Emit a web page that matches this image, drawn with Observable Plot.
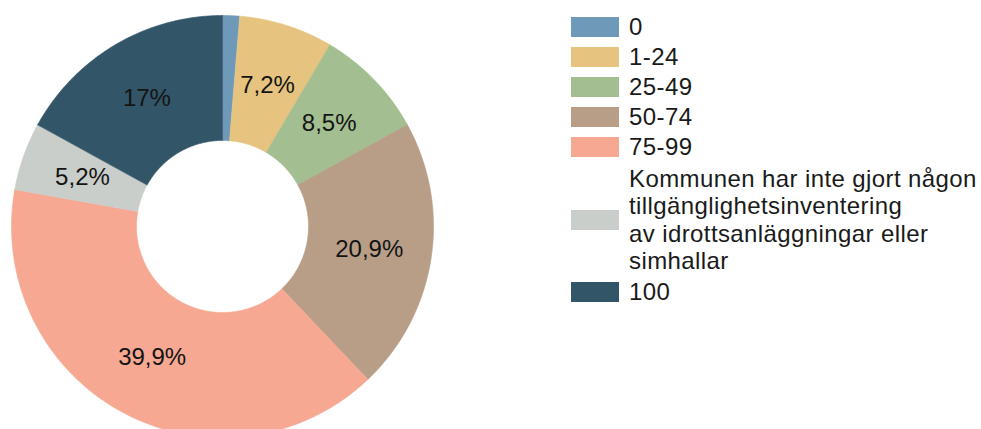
<!DOCTYPE html>
<html><head><meta charset="utf-8">
<script src="https://cdn.jsdelivr.net/npm/d3@7"></script>
<script src="https://cdn.jsdelivr.net/npm/@observablehq/plot@0.6"></script>
<style>
body{margin:0;background:#fff;font-family:"Liberation Sans",Arial,sans-serif;}
#wrap{position:relative;width:981px;height:429px;overflow:hidden;background:#fff;}
#chart{position:absolute;left:0;top:0;}
#legend{position:absolute;left:571px;top:12px;color:#1a1a1a;font-size:24px;}
.item{display:flex;align-items:center;}
.sw{width:48px;height:20px;flex:none;margin-right:10px;}
.lb{line-height:30px;white-space:pre-line;letter-spacing:0.4px;}
.multi{padding:3px 0;}
.multi .lb{line-height:27.3px;}
</style></head><body>
<div id="wrap"><div id="chart"></div><div id="legend"></div></div>
<script>
const categories = ["0", "1-24", "25-49", "50-74", "75-99",
  "Kommunen har inte gjort någon\ntillgänglighetsinventering\nav idrottsanläggningar eller\nsimhallar",
  "100"];
const values = [1.3, 7.2, 8.5, 20.9, 39.9, 5.2, 17];
const colors = ["#6F99B9", "#E6C47F", "#A3BE91", "#B89E86", "#F6A892", "#C9CECA", "#325568"];

const data = categories.map((c, i) => ({key: c, value: values[i]}));
const innerRatio = 86 / 211;
const arcs = d3.pie().sort(null).value(d => d.value)(data);

const pts = [];
for (const a of arcs) {
  const n = Math.max(2, Math.ceil((a.endAngle - a.startAngle) / 0.01));
  const ring = [];
  for (let i = 0; i <= n; i++) {
    const t = a.startAngle + (a.endAngle - a.startAngle) * i / n;
    ring.push({key: a.data.key, x: Math.sin(t), y: Math.cos(t)});
  }
  for (let i = n; i >= 0; i--) {
    const t = a.startAngle + (a.endAngle - a.startAngle) * i / n;
    ring.push({key: a.data.key, x: innerRatio * Math.sin(t), y: innerRatio * Math.cos(t)});
  }
  ring.push(ring[0]);
  pts.push(...ring);
}

const fmt = v => String(v).replace(".", ",") + "%";
const labels = arcs.filter(a => a.data.value >= 5).map(a => {
  const m = (a.startAngle + a.endAngle) / 2, r = (1 + innerRatio) / 2;
  return {x: r * Math.sin(m), y: r * Math.cos(m), text: fmt(a.data.value)};
});

const R = 211, cx = 222, cy = 226, W = 450, H = 429;
const chart = Plot.plot({
  width: W, height: H,
  marginTop: 0, marginBottom: 0, marginLeft: 0, marginRight: 0,
  x: {domain: [-cx / R, (W - cx) / R], axis: null},
  y: {domain: [-(H - cy) / R, cy / R], axis: null},
  color: {domain: categories, range: colors},
  style: {fontFamily: '"Liberation Sans", Arial, sans-serif', background: "white"},
  marks: [
    Plot.line(pts, {x: "x", y: "y", z: "key", fill: "key", stroke: "key", strokeWidth: 0.6, curve: "linear"}),
    Plot.text(labels, {x: "x", y: "y", text: "text", fontSize: 24, fill: "#141414", textAnchor: "middle", lineAnchor: "middle"})
  ]
});
document.getElementById("chart").appendChild(chart);

const legend = d3.select("#legend");
categories.forEach((c, i) => {
  const item = legend.append("div").attr("class", "item" + (c.includes("\n") ? " multi" : ""));
  item.append("div").attr("class", "sw").style("background", colors[i]);
  item.append("div").attr("class", "lb").text(c);
});
</script>
</body></html>
